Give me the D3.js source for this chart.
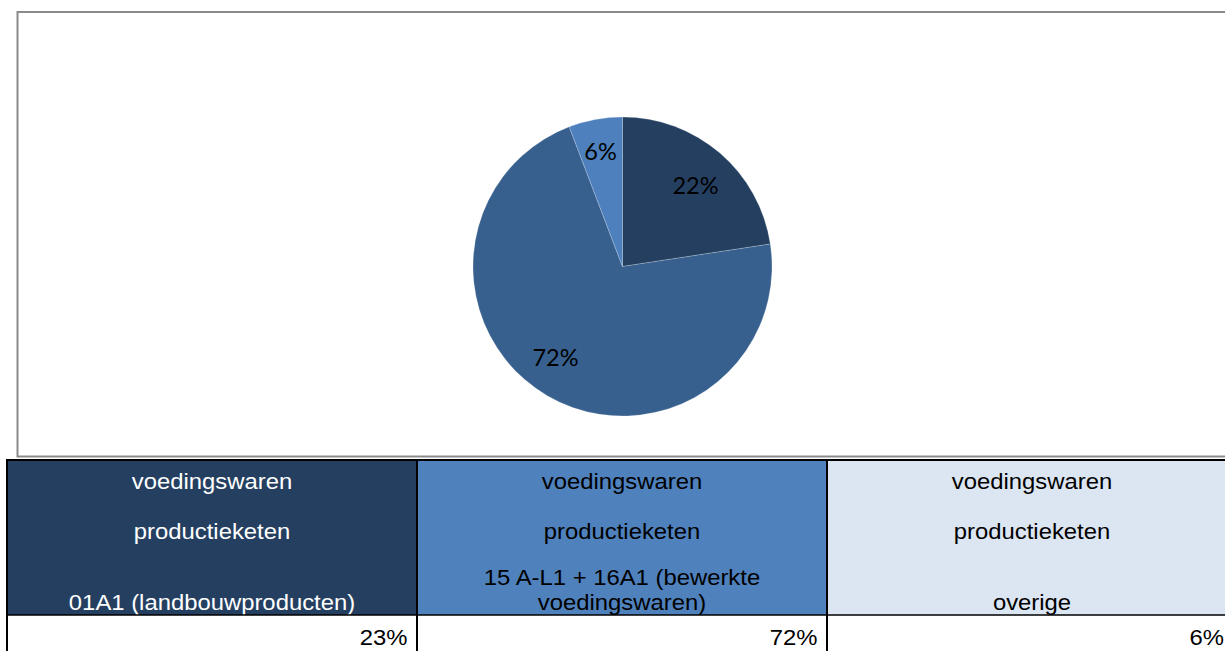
<!DOCTYPE html>
<html>
<head>
<meta charset="utf-8">
<script src="https://cdn.jsdelivr.net/npm/d3@7"></script>
<style>
  html, body { margin: 0; padding: 0; background: #ffffff; overflow: hidden; }
  svg { display: block; }
</style>
</head>
<body>
<svg id="chart" width="1225" height="651"></svg>
<script>
// ---- data ----
const categories = ["01A1 (landbouwproducten)", "15 A-L1 + 16A1 (bewerkte voedingswaren)", "overige"];
const pieValues = [22.6, 71.6, 5.8];
const pieLabels = ["22%", "72%", "6%"];
const tableValues = ["23%", "72%", "6%"];
const headerLine1 = ["voedingswaren", "voedingswaren", "voedingswaren"];
const headerLine2 = ["productieketen", "productieketen", "productieketen"];
const headerLast = [["01A1 (landbouwproducten)"], ["15 A-L1 + 16A1 (bewerkte", "voedingswaren)"], ["overige"]];

// ---- styles ----
const sliceColors = ["#253f61", "#37608f", "#4d80bc"];
const headerFills = ["#253f61", "#4f81bd", "#dce6f2"];
const headerText = ["#ffffff", "#000000", "#000000"];
// label placement (best-fit style): fraction along slice angle, fraction of radius
const labelAngleFrac = [0.516, 0.524, 0.48];
const labelRadiusFrac = [0.73, 0.755, 0.78];

const svg = d3.select("#chart");

// chart area border
svg.append("rect")
  .attr("x", 17.5).attr("y", 12).attr("width", 1230).attr("height", 444.5)
  .attr("fill", "#ffffff").attr("stroke", "#8a8a8a").attr("stroke-width", 2);

// pie
const cx = 622.5, cy = 266.5, r = 149.5;
const pie = d3.pie().sort(null).value(d => d);
const arcs = pie(pieValues);
const arc = d3.arc().innerRadius(0).outerRadius(r);

const g = svg.append("g").attr("transform", `translate(${cx},${cy})`);
g.selectAll("path.slice").data(arcs).join("path")
  .attr("class", "slice")
  .attr("d", arc)
  .attr("fill", (d, i) => sliceColors[i])
  .attr("stroke", "rgba(255,255,255,0.35)")
  .attr("stroke-width", 0.6);

function labelPos(d, i) {
  const a = d.startAngle + (d.endAngle - d.startAngle) * labelAngleFrac[i];
  const rr = r * labelRadiusFrac[i];
  return [Math.sin(a) * rr, -Math.cos(a) * rr];
}

g.selectAll("text.lbl").data(arcs).join("text")
  .attr("class", "lbl")
  .attr("transform", (d, i) => `translate(${labelPos(d, i)})`)
  .attr("text-anchor", "middle")
  .attr("dy", "0.36em")
  .attr("font-family", "Lato, 'Open Sans', sans-serif")
  .attr("font-size", 23.5)
  .attr("fill", "#000000")
  .text((d, i) => pieLabels[i]);

// table
const colX = d3.scaleBand().domain(d3.range(categories.length)).range([7, 1237]).paddingInner(0).paddingOuter(0);
const yTop = 460, yMid = 615, yBot = 651;

const cols = svg.append("g").selectAll("g.col").data(categories).join("g").attr("class", "col");

cols.append("rect")
  .attr("x", (d, i) => colX(i)).attr("y", yTop)
  .attr("width", colX.bandwidth()).attr("height", yMid - yTop)
  .attr("fill", (d, i) => headerFills[i]);

cols.append("rect")
  .attr("x", (d, i) => colX(i)).attr("y", yMid)
  .attr("width", colX.bandwidth()).attr("height", yBot - yMid)
  .attr("fill", "#ffffff");

const fontFam = "'Liberation Sans', Arial, sans-serif";
const fs = 22.4, sx = 1.065;

function addText(sel, x, y, txt, color, anchor) {
  sel.append("text")
    .attr("transform", `translate(${x},${y}) scale(${sx},1)`)
    .attr("text-anchor", anchor)
    .attr("font-family", fontFam)
    .attr("font-size", fs)
    .attr("fill", color)
    .text(txt);
}

cols.each(function (d, i) {
  const sel = d3.select(this);
  const mx = colX(i) + colX.bandwidth() / 2;
  addText(sel, mx, 488.5, headerLine1[i], headerText[i], "middle");
  addText(sel, mx, 538.5, headerLine2[i], headerText[i], "middle");
  const last = headerLast[i];
  last.forEach((t, k) => {
    const y = 610 - (last.length - 1 - k) * 25.5;
    addText(sel, mx, y, t, headerText[i], "middle");
  });
  const vx = Math.min(colX(i) + colX.bandwidth() - 9.5, 1224);
  addText(sel, vx, 645, tableValues[i], "#000000", "end");
});

// table lines
const lines = svg.append("g").attr("stroke", "#000000").attr("fill", "none");
lines.append("line").attr("x1", 6).attr("x2", 1240).attr("y1", 460).attr("y2", 460).attr("stroke-width", 2);
lines.append("line").attr("x1", 7).attr("x2", 7).attr("y1", 459).attr("y2", 651).attr("stroke-width", 2);
lines.append("line").attr("x1", 7).attr("x2", 1240).attr("y1", yMid).attr("y2", yMid).attr("stroke-width", 1.5);
colX.domain().slice(1).forEach(i => {
  lines.append("line").attr("x1", colX(i)).attr("x2", colX(i)).attr("y1", 460).attr("y2", 651).attr("stroke-width", 2);
});
</script>
</body>
</html>
